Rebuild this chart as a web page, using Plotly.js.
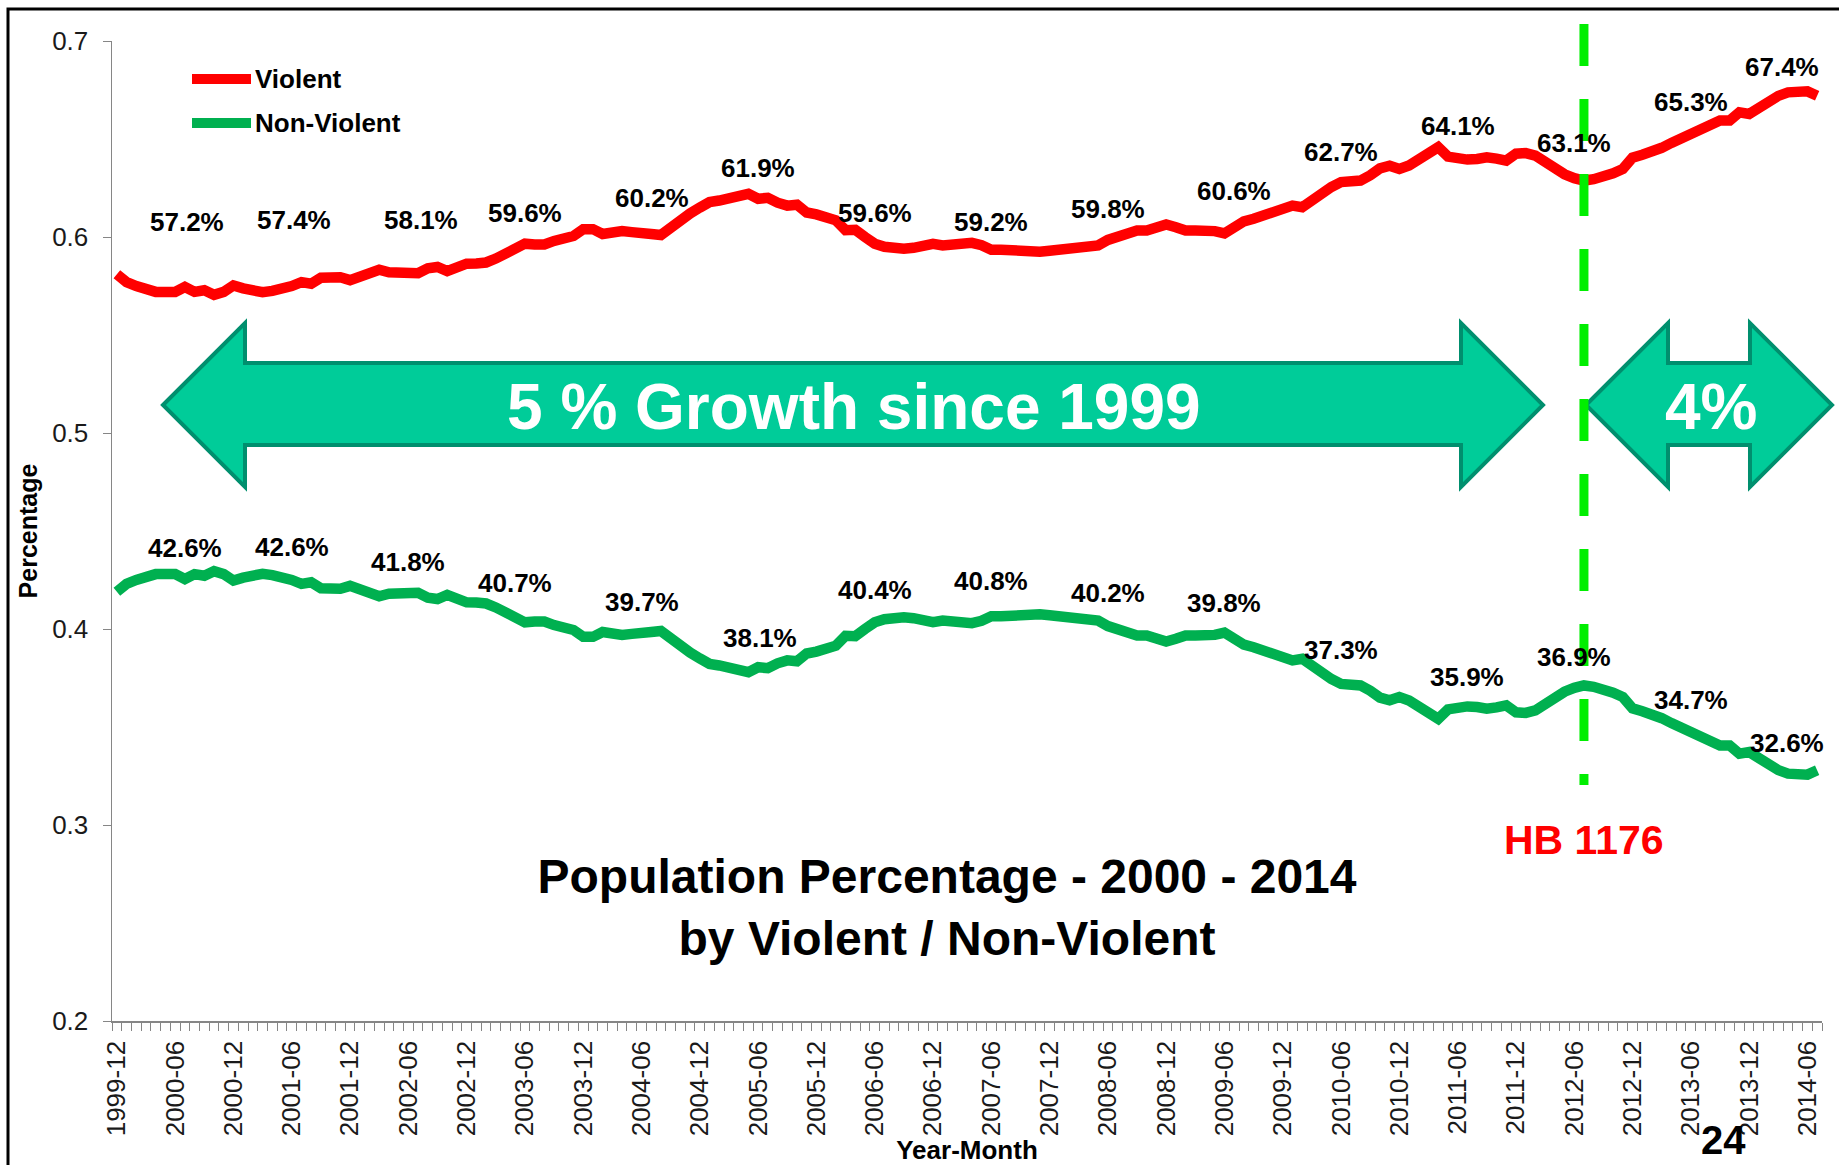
<!DOCTYPE html>
<html><head><meta charset="utf-8">
<script src="https://cdn.plot.ly/plotly-3.0.1.min.js"></script>
<style>html,body{margin:0;padding:0;background:#fff;overflow:hidden}#chart{width:1839px;height:1165px}</style>
</head><body><div id="chart"></div>
<script>
// ---- DATA ----
const violent = [0.5810,
 0.5770,0.5750,0.5730,0.5720,0.5720,0.5720,0.5745,0.5720,0.5728,0.5705,0.5720,0.5753,
 0.5738,0.5728,0.5718,0.5725,0.5735,0.5750,0.5770,0.5762,0.5792,0.5797,0.5795,0.5780,
 0.5795,0.5820,0.5833,0.5820,0.5815,0.5810,0.5815,0.5840,0.5847,0.5826,0.5850,0.5864,
 0.5865,0.5870,0.5890,0.5911,0.5940,0.5966,0.5962,0.5962,0.5980,0.5990,0.6005,0.6040,
 0.6040,0.6015,0.6025,0.6030,0.6025,0.6025,0.6015,0.6010,0.6050,0.6090,0.6120,0.6150,
 0.6178,0.6186,0.6200,0.6215,0.6220,0.6195,0.6200,0.6175,0.6160,0.6165,0.6125,0.6115,
 0.6105,0.6085,0.6035,0.6037,0.6000,0.5966,0.5950,0.5940,0.5940,0.5945,0.5958,0.5965,
 0.5957,0.5965,0.5967,0.5970,0.5958,0.5935,0.5935,0.5932,0.5920,0.5915,0.5925,0.5930,
 0.5935,0.5940,0.5945,0.5950,0.5957,0.5985,0.6005,0.6020,0.6033,0.6033,0.6050,0.6064,
 0.6050,0.6033,0.6033,0.6033,0.6030,0.6018,0.6055,0.6080,0.6093,0.6110,0.6125,0.6145,
 0.6160,0.6152,0.6190,0.6228,0.6255,0.6280,0.6285,0.6288,0.6315,0.6350,0.6364,0.6347,
 0.6365,0.6395,0.6430,0.6458,0.6410,0.6400,0.6395,0.6398,0.6407,0.6400,0.6390,0.6425,
 0.6428,0.6415,0.6380,0.6347,0.6320,0.6300,0.6288,0.6295,0.6305,0.6325,0.6347,0.6405,
 0.6420,0.6432,0.6455,0.6480,0.6505,0.6525,0.6545,0.6570,0.6594,0.6594,0.6636,0.6628,
 0.6660,0.6696,0.6720,0.6738,0.6740,0.6743,0.6721];

const nonViolent = [0.4190,
 0.4230,0.4250,0.4270,0.4280,0.4280,0.4280,0.4255,0.4280,0.4272,0.4295,0.4280,0.4247,
 0.4262,0.4272,0.4282,0.4275,0.4265,0.4250,0.4230,0.4238,0.4208,0.4203,0.4205,0.4220,
 0.4205,0.4180,0.4167,0.4180,0.4185,0.4190,0.4185,0.4160,0.4153,0.4174,0.4150,0.4136,
 0.4135,0.4130,0.4110,0.4089,0.4060,0.4034,0.4038,0.4038,0.4020,0.4010,0.3995,0.3960,
 0.3960,0.3985,0.3975,0.3970,0.3975,0.3975,0.3985,0.3990,0.3950,0.3910,0.3880,0.3850,
 0.3822,0.3814,0.3800,0.3785,0.3780,0.3805,0.3800,0.3825,0.3840,0.3835,0.3875,0.3885,
 0.3895,0.3915,0.3965,0.3963,0.4000,0.4034,0.4050,0.4060,0.4060,0.4055,0.4042,0.4035,
 0.4043,0.4035,0.4033,0.4030,0.4042,0.4065,0.4065,0.4068,0.4080,0.4085,0.4075,0.4070,
 0.4065,0.4060,0.4055,0.4050,0.4043,0.4015,0.3995,0.3980,0.3967,0.3967,0.3950,0.3936,
 0.3950,0.3967,0.3967,0.3967,0.3970,0.3982,0.3945,0.3920,0.3907,0.3890,0.3875,0.3855,
 0.3840,0.3848,0.3810,0.3772,0.3745,0.3720,0.3715,0.3712,0.3685,0.3650,0.3636,0.3653,
 0.3635,0.3605,0.3570,0.3542,0.3590,0.3600,0.3605,0.3602,0.3593,0.3600,0.3610,0.3575,
 0.3572,0.3585,0.3620,0.3653,0.3680,0.3700,0.3712,0.3705,0.3695,0.3675,0.3653,0.3595,
 0.3580,0.3568,0.3545,0.3520,0.3495,0.3475,0.3455,0.3430,0.3406,0.3406,0.3364,0.3372,
 0.3340,0.3304,0.3280,0.3262,0.3260,0.3257,0.3279];

const startYear = 1999, startMonth = 12;
const months = violent.map((_, i) => {
  const m = startMonth - 1 + i;
  return (startYear + Math.floor(m / 12)) + '-' + String(m % 12 + 1).padStart(2, '0');
});

const tickMonths = ['1999-12','2000-06','2000-12','2001-06','2001-12','2002-06','2002-12',
 '2003-06','2003-12','2004-06','2004-12','2005-06','2005-12','2006-06','2006-12','2007-06',
 '2007-12','2008-06','2008-12','2009-06','2009-12','2010-06','2010-12','2011-06','2011-12',
 '2012-06','2012-12','2013-06','2013-12','2014-06'];
const yTicks = [0.2, 0.3, 0.4, 0.5, 0.6, 0.7];

const labelMonths = ['2000-06','2001-06','2002-06','2003-06','2004-06','2005-06','2006-06',
 '2007-06','2008-06','2009-06','2010-06','2011-06','2012-06','2013-06','2014-06'];
const violentLabels = ['57.2%','57.4%','58.1%','59.6%','60.2%','61.9%','59.6%','59.2%',
 '59.8%','60.6%','62.7%','64.1%','63.1%','65.3%','67.4%'];
const nonViolentLabels = ['42.6%','42.6%','41.8%','40.7%','39.7%','38.1%','40.4%','40.8%',
 '40.2%','39.8%','37.3%','35.9%','36.9%','34.7%','32.6%'];

const seriesNames = ['Violent', 'Non-Violent'];
const lawMonth = '2012-07';
const lawLabel = 'HB 1176';
const growthText = ['5 % Growth since 1999', '4%'];
const chartTitle = 'Population Percentage - 2000 - 2014<br>by Violent / Non-Violent';
const pageNumber = '24';

// ---- PRESENTATION ----
const FONT = 'Liberation Sans, Arial, Helvetica, sans-serif';
const RED = '#FF0000', GREEN = '#00B050';
const ML = 112, MT = 41, PW = 1710, PH = 980;
const px = X => (X - ML) / PW;
const py = Y => 1 - (Y - MT) / PH;

const vShiftX = [12,2,13,0,10,0,0,0,0,10,0,0,0,0,-25];
const vShiftY = [70,66,54,31,34,31,31,28,31,42,30,33,35,32,24];
const nShiftX = [10,0,0,-10,0,2,0,0,0,0,0,9,0,0,-20];
const nShiftY = [26,33,30,39,32,29,32,35,33,30,34,30,31,32,32];

const traces = [
  {x: months, y: violent, name: seriesNames[0], type: 'scatter', mode: 'lines',
   line: {color: RED, width: 10.5}, showlegend: false},
  {x: months, y: nonViolent, name: seriesNames[1], type: 'scatter', mode: 'lines',
   line: {color: GREEN, width: 10.5}, showlegend: false}
];

function dblArrow(xa, xb, xc, xd) {
  const yT = 323, yBT = 363, yM = 405, yBB = 445, yB = 487;
  const p = (X, Y) => px(X).toFixed(5) + ',' + py(Y).toFixed(5);
  return 'M' + p(xa, yM) + ' L' + p(xb, yT) + ' L' + p(xb, yBT) + ' L' + p(xc, yBT) +
    ' L' + p(xc, yT) + ' L' + p(xd, yM) + ' L' + p(xc, yB) + ' L' + p(xc, yBB) +
    ' L' + p(xb, yBB) + ' L' + p(xb, yB) + ' Z';
}

const shapes = [
  {type: 'rect', xref: 'paper', yref: 'paper', x0: px(8), x1: 1.3, y0: -0.4, y1: py(9),
   line: {color: '#000', width: 3}, fillcolor: 'rgba(0,0,0,0)', layer: 'above'},
  {type: 'path', xref: 'paper', yref: 'paper', path: dblArrow(163, 245, 1461, 1543),
   fillcolor: '#00CC99', line: {color: '#008F6E', width: 4}},
  {type: 'path', xref: 'paper', yref: 'paper', path: dblArrow(1586, 1668, 1750, 1832),
   fillcolor: '#00CC99', line: {color: '#008F6E', width: 4}},
  {type: 'line', xref: 'x', yref: 'paper', x0: lawMonth, x1: lawMonth, y0: py(24), y1: py(785),
   line: {color: '#00EE00', width: 9, dash: '42px,33px'}},
  {type: 'line', xref: 'paper', yref: 'paper', x0: px(192), x1: px(251), y0: py(79), y1: py(79),
   line: {color: RED, width: 10}},
  {type: 'line', xref: 'paper', yref: 'paper', x0: px(192), x1: px(251), y0: py(123), y1: py(123),
   line: {color: GREEN, width: 10}}
];

const boldFont = (size, color) => ({family: FONT, size: size, color: color || '#000', weight: 700});

const annotations = [
  {xref: 'paper', yref: 'paper', x: px(253), y: py(79), xanchor: 'left', yanchor: 'middle',
   text: seriesNames[0], showarrow: false, font: boldFont(26)},
  {xref: 'paper', yref: 'paper', x: px(253), y: py(123), xanchor: 'left', yanchor: 'middle',
   text: seriesNames[1], showarrow: false, font: boldFont(26)},
  {xref: 'paper', yref: 'paper', x: px(854), y: py(407), xanchor: 'center', yanchor: 'middle',
   text: growthText[0], showarrow: false, font: boldFont(64, '#FFFFFF')},
  {xref: 'paper', yref: 'paper', x: px(1711), y: py(407), xanchor: 'center', yanchor: 'middle',
   text: growthText[1], showarrow: false, font: boldFont(64, '#FFFFFF')},
  {xref: 'x', yref: 'paper', x: lawMonth, y: py(840), xanchor: 'center', yanchor: 'middle',
   text: lawLabel, showarrow: false, font: boldFont(41, RED)},
  {xref: 'paper', yref: 'paper', x: px(1723), y: py(1164), xanchor: 'center', yanchor: 'bottom',
   text: pageNumber, showarrow: false, font: boldFont(40)}
];

labelMonths.forEach((m, k) => {
  const i = months.indexOf(m);
  annotations.push({x: m, y: violent[i], xref: 'x', yref: 'y', text: violentLabels[k],
    showarrow: false, xanchor: 'center', yanchor: 'middle',
    xshift: vShiftX[k], yshift: vShiftY[k], font: boldFont(26)});
  annotations.push({x: m, y: nonViolent[i], xref: 'x', yref: 'y', text: nonViolentLabels[k],
    showarrow: false, xanchor: 'center', yanchor: 'middle',
    xshift: nShiftX[k], yshift: nShiftY[k], font: boldFont(26)});
});

const layout = {
  width: 1839, height: 1165,
  margin: {l: ML, r: 1839 - ML - PW, t: MT, b: 1165 - MT - PH},
  paper_bgcolor: '#FFFFFF', plot_bgcolor: '#FFFFFF',
  font: {family: FONT, color: '#000'},
  showlegend: false,
  title: {text: chartTitle, xref: 'container', yref: 'container', x: 947 / 1839,
          xanchor: 'center', y: 1 - 893 / 1165, yanchor: 'middle', font: boldFont(48)},
  xaxis: {
    type: 'category', categoryorder: 'array', categoryarray: months,
    range: [-0.5, months.length - 0.5], autorange: false,
    tickmode: 'array', tickvals: months,
    ticktext: months.map(m => tickMonths.includes(m) ? m : ''),
    tickson: 'boundaries', ticks: 'outside', ticklen: 8, tickwidth: 1, tickcolor: '#868686',
    showline: true, linecolor: '#868686', linewidth: 1.5,
    showgrid: false, zeroline: false, tickangle: -90, ticklabelstandoff: 8,
    tickfont: {family: FONT, size: 26, color: '#1a1a1a'},
    title: {text: 'Year-Month', font: boldFont(26), standoff: 3},
    automargin: false
  },
  yaxis: {
    range: [0.2, 0.7], autorange: false,
    tickmode: 'array', tickvals: yTicks,
    ticks: 'outside', ticklen: 8, tickwidth: 1, tickcolor: '#868686',
    showline: true, linecolor: '#868686', linewidth: 1.5,
    showgrid: false, zeroline: false, ticklabelstandoff: 9,
    tickfont: {family: FONT, size: 26, color: '#1a1a1a'},
    title: {text: 'Percentage', font: boldFont(25), standoff: 7},
    automargin: false
  },
  shapes: shapes,
  annotations: annotations
};

Plotly.newPlot('chart', traces, layout, {displayModeBar: false, staticPlot: true});
</script>
</body></html>
